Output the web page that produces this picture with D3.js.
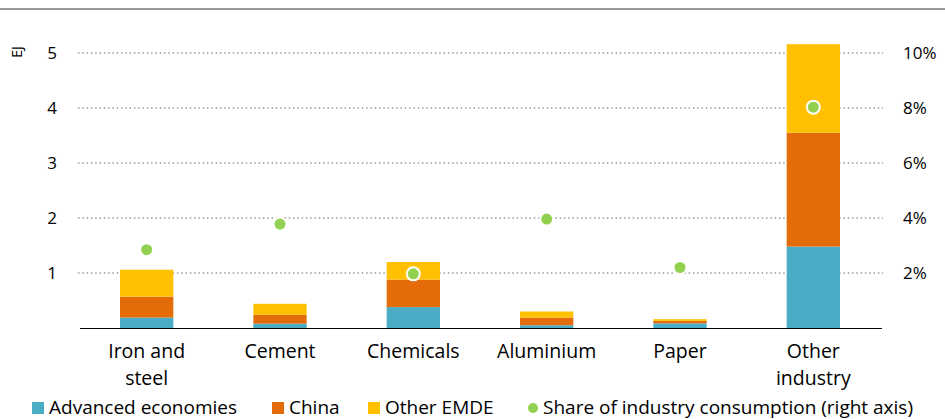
<!DOCTYPE html>
<html><head><meta charset="utf-8">
<script src="https://cdn.jsdelivr.net/npm/d3@7"></script>
<style>body{margin:0;background:#fff}svg{display:block;font-family:"Open Sans", Lato, sans-serif}</style>
</head><body>
<svg id="c" width="945" height="419"></svg>
<script>
const categories = [["Iron and","steel"],["Cement"],["Chemicals"],["Aluminium"],["Paper"],["Other","industry"]];
const advanced = [0.19, 0.08, 0.38, 0.05, 0.085, 1.48];
const china = [0.38, 0.16, 0.50, 0.14, 0.045, 2.07];
const otherEMDE = [0.49, 0.20, 0.32, 0.11, 0.03, 1.61];
const share = [2.85, 3.78, 1.97, 3.96, 2.2, 8.03];
const leftTicks = [1,2,3,4,5];
const rightTicks = [2,4,6,8,10];
const seriesNames = ["Advanced economies","China","Other EMDE"];
const colors = ["#4BACC6","#E36C09","#FFC000"];
const dotColor = "#92D050";

const svg = d3.select("#c");
const x0 = 80, x1 = 880;
const x = d3.scaleBand().domain(d3.range(categories.length)).range([x0, x1]).paddingInner(0.6).paddingOuter(0.3);
const y = d3.scaleLinear().domain([0,5]).range([328,53]);
const y2 = d3.scaleLinear().domain([0,10]).range([328,53]);

// top rule
svg.append("line").attr("x1",0).attr("x2",945).attr("y1",9).attr("y2",9).attr("stroke","#999").attr("stroke-width",2);

// grid
svg.append("g").selectAll("line").data(leftTicks).join("line")
  .attr("x1",78).attr("x2",883).attr("y1",d=>y(d)).attr("y2",d=>y(d))
  .attr("stroke","#999").attr("stroke-width",1.5).attr("stroke-dasharray","1.5,2.8");

// left axis labels
svg.append("g").selectAll("text").data(leftTicks).join("text")
  .attr("x",57).attr("y",d=>y(d)).attr("dy","0.36em").attr("text-anchor","end")
  .attr("font-size",17).attr("fill","#000").text(d=>d);
svg.append("text").attr("transform","translate(22,52) rotate(-90)").attr("text-anchor","middle")
  .attr("font-size",14).attr("fill","#000").text("EJ");

// right axis labels
svg.append("g").selectAll("text").data(rightTicks).join("text")
  .attr("x",903).attr("y",d=>y2(d)).attr("dy","0.36em").attr("text-anchor","start")
  .attr("font-size",17).attr("fill","#000").text(d=>d+"%");

// stacked bars
const rows = categories.map((c,i)=>({i, a:advanced[i], c:china[i], o:otherEMDE[i]}));
const stack = d3.stack().keys(["a","c","o"])(rows);
svg.append("g").selectAll("g").data(stack).join("g").attr("fill",(d,k)=>colors[k])
  .selectAll("rect").data(d=>d).join("rect")
  .attr("x",d=>x(d.data.i)).attr("width",x.bandwidth())
  .attr("y",d=>y(d[1])).attr("height",d=>y(d[0])-y(d[1]));

// baseline
svg.append("line").attr("x1",x0).attr("x2",x1+2).attr("y1",328.5).attr("y2",328.5).attr("stroke","#000").attr("stroke-width",1.2);

// dots
svg.append("g").selectAll("circle").data(share).join("circle")
  .attr("cx",(d,i)=>x(i)+x.bandwidth()/2).attr("cy",d=>y2(d)).attr("r",6.5)
  .attr("fill",dotColor).attr("stroke","#fff").attr("stroke-width",2);

// category labels
const cl = svg.append("g").selectAll("text").data(categories).join("text")
  .attr("x",(d,i)=>x(i)+x.bandwidth()/2).attr("y",358).attr("text-anchor","middle")
  .attr("font-size",19.5).attr("fill","#000");
cl.selectAll("tspan").data(d=>d).join("tspan")
  .attr("x",function(){return this.parentNode.getAttribute("x");})
  .attr("dy",(d,j)=>j===0?0:"1.37em").text(d=>d);

// legend
const leg = [
  {t:seriesNames[0], c:colors[0], x:32, shape:"rect"},
  {t:seriesNames[1], c:colors[1], x:272, shape:"rect"},
  {t:seriesNames[2], c:colors[2], x:368, shape:"rect"},
  {t:"Share of industry consumption (right axis)", c:dotColor, x:528, shape:"circle"}
];
const lg = svg.append("g");
leg.forEach(l=>{
  if(l.shape==="rect") lg.append("rect").attr("x",l.x).attr("y",402).attr("width",12).attr("height",12).attr("fill",l.c);
  else lg.append("circle").attr("cx",l.x+5).attr("cy",408).attr("r",5).attr("fill",l.c);
  lg.append("text").attr("x",l.x+(l.shape==="rect"?17:15)).attr("y",414).attr("font-size",19).attr("fill","#000").text(l.t);
});
</script>
</body></html>
